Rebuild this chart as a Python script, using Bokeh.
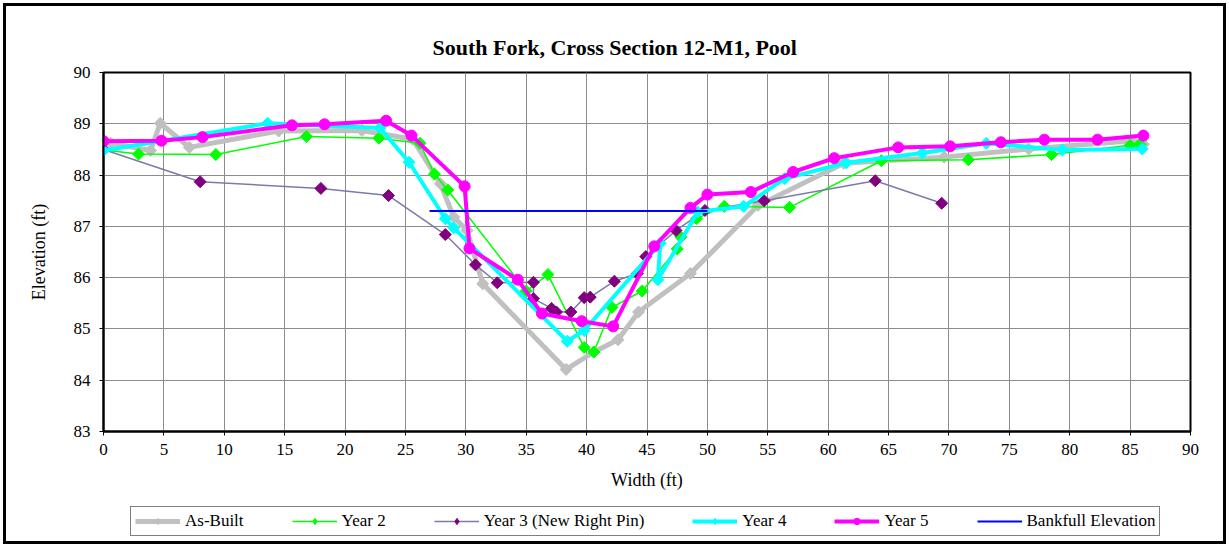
import math
from bokeh.plotting import figure
from bokeh.models import Legend, LegendItem, FixedTicker, Range1d
from bokeh.layouts import column
from bokeh.embed import file_html
from bokeh.resources import INLINE

FONT = "Liberation Serif"

title_text = "South Fork, Cross Section 12-M1, Pool"
x_label = "Width (ft)"
y_label = "Elevation (ft)"

as_built_x = [0.6, 3.9, 4.7, 7.1, 14.5, 21.4, 25.6, 27.9, 29.0, 30.1, 31.4, 38.3, 40.6, 42.6, 44.3, 48.6, 54.2, 61.3, 69.6, 76.6, 85.2, 86.1]
as_built_y = [88.62, 88.48, 89.01, 88.54, 88.86, 88.87, 88.70, 87.83, 87.18, 86.92, 85.88, 84.21, 84.55, 84.79, 85.33, 86.08, 87.41, 88.23, 88.35, 88.51, 88.67, 88.60]

year2_x = [0, 2.9, 9.3, 16.8, 22.8, 26.2, 27.4, 28.5, 35.0, 36.8, 39.8, 40.6, 42.1, 44.6, 47.5, 47.8, 49.1, 51.4, 56.8, 64.4, 71.6, 78.5, 85.0, 85.8]
year2_y = [88.49, 88.41, 88.40, 88.75, 88.72, 88.62, 88.02, 87.71, 85.74, 86.06, 84.64, 84.55, 85.42, 85.74, 86.56, 86.79, 87.15, 87.39, 87.37, 88.28, 88.30, 88.40, 88.58, 88.60]

year3_x = [0, 8.0, 18.0, 23.6, 28.3, 30.8, 32.6, 35.6, 35.6, 37.1, 37.5, 38.7, 39.8, 40.3, 42.3, 44.2, 44.9, 47.4, 49.8, 54.7, 63.9, 69.4]
year3_y = [88.50, 87.87, 87.74, 87.60, 86.84, 86.25, 85.90, 85.91, 85.59, 85.40, 85.33, 85.33, 85.61, 85.62, 85.93, 86.08, 86.41, 86.92, 87.31, 87.50, 87.89, 87.45]

year4_x = [0, 13.6, 22.9, 25.3, 28.3, 29.0, 38.4, 39.8, 46.1, 45.9, 49.2, 53.0, 56.4, 61.5, 67.8, 73.1, 79.4, 86.0]
year4_y = [88.48, 89.01, 88.92, 88.25, 87.15, 86.97, 84.76, 84.97, 86.67, 85.96, 87.28, 87.39, 87.93, 88.24, 88.43, 88.62, 88.49, 88.51]

year5_x = [0, 4.8, 8.2, 15.6, 18.3, 23.4, 25.5, 29.9, 30.3, 34.3, 36.3, 39.6, 42.2, 45.6, 48.6, 50.0, 53.6, 57.1, 60.5, 65.8, 70.1, 74.3, 77.9, 82.3, 86.1]
year5_y = [88.66, 88.67, 88.74, 88.97, 88.99, 89.06, 88.77, 87.78, 86.57, 85.96, 85.30, 85.15, 85.05, 86.61, 87.36, 87.62, 87.67, 88.06, 88.33, 88.54, 88.56, 88.64, 88.69, 88.69, 88.77]

bankfull_x = [27.0, 50.0]
bankfull_y = [87.3, 87.3]

series_names = ["As-Built", "Year 2", "Year 3 (New Right Pin)", "Year 4", "Year 5", "Bankfull Elevation"]

x_ticks = list(range(0, 91, 5))
y_ticks = list(range(83, 91, 1))

# series styles: (line color, line width, marker, marker color)
styles = [
    ("#c0c0c0", 5, "diamond", "#c0c0c0"),
    ("#00ff00", 1.5, "diamond", "#00ff00"),
    ("#7b7bab", 1.5, "diamond", "#800080"),
    ("#00ffff", 4, "diamond", "#00ffff"),
    ("#ff00ff", 4, "circle", "#ff00ff"),
    ("#0000ff", 2, None, None),
]
series = [(as_built_x, as_built_y), (year2_x, year2_y), (year3_x, year3_y),
          (year4_x, year4_y), (year5_x, year5_y), (bankfull_x, bankfull_y)]


def add_markers(fig, xs, ys, mk, mc):
    if mk == "diamond":
        return fig.scatter(xs, ys, marker="square", angle=math.pi / 4, size=8.5,
                           fill_color=mc, line_color=mc)
    return fig.scatter(xs, ys, marker="circle", size=11, fill_color=mc, line_color=mc)


def add_legend_markers(fig, xs, ys, mk, mc):
    if mk == "diamond":
        return fig.scatter(xs, ys, marker="diamond", size=13, fill_color=mc, line_color=mc)
    return fig.scatter(xs, ys, marker="circle", size=10, fill_color=mc, line_color=mc)


p = figure(frame_width=1087, frame_height=359, output_backend="svg", toolbar_location=None,
           x_range=Range1d(0, 90), y_range=Range1d(83, 90),
           min_border_left=103, min_border_right=39, min_border_top=72, min_border_bottom=68)
p.border_fill_color = None

p.title.text = title_text
p.title.align = "left"
p.title.offset = 329
p.title.text_font = FONT
p.title.text_font_size = "22px"
p.title.text_font_style = "bold"
p.title.text_color = "black"
p.title.standoff = 26

p.outline_line_color = "black"
p.outline_line_width = 2
p.outline_line_alpha = 1.0

for ax in (p.xaxis[0], p.yaxis[0]):
    ax.axis_line_color = "black"
    ax.axis_line_width = 2
    ax.major_tick_in = 0
    ax.major_tick_out = 4
    ax.minor_tick_in = 0
    ax.minor_tick_out = 0
    ax.major_tick_line_color = "black"
    ax.major_label_text_font = FONT
    ax.major_label_text_font_size = "17px"
    ax.major_label_text_color = "black"
    ax.axis_label_text_font = FONT
    ax.axis_label_text_font_size = "18px"
    ax.axis_label_text_font_style = "normal"
    ax.axis_label_text_color = "black"

p.xaxis.ticker = FixedTicker(ticks=x_ticks)
p.yaxis.ticker = FixedTicker(ticks=y_ticks)
p.xaxis.axis_label = x_label
p.yaxis.axis_label = y_label
p.xaxis.major_label_standoff = 8
p.xaxis.axis_label_standoff = 12
p.yaxis.major_label_standoff = 9
p.yaxis.axis_label_standoff = 22

p.xgrid.ticker = FixedTicker(ticks=x_ticks)
p.ygrid.ticker = FixedTicker(ticks=y_ticks)
p.grid.grid_line_color = "#8c8c8c"
p.grid.grid_line_width = 1
p.grid.grid_line_alpha = 1.0

for (xs, ys), (lc, lw, mk, mc) in zip(series, styles):
    p.line(xs, ys, line_color=lc, line_width=lw)
    if mk is not None:
        add_markers(p, xs, ys, mk, mc)

# legend strip below the chart; its proxy renderers use the same data but lie outside this strip's ranges
q = figure(width=1229, height=48, output_backend="svg", toolbar_location=None,
           x_axis_type=None, y_axis_type=None, x_range=Range1d(-2, -1), y_range=Range1d(0, 1),
           min_border_left=0, min_border_right=0, min_border_top=0, min_border_bottom=0)
q.border_fill_color = None
q.background_fill_color = None
q.outline_line_color = None
q.grid.visible = False

items = []
for name, (xs, ys), (lc, lw, mk, mc) in zip(series_names, series, styles):
    rs = [q.line(xs, ys, line_color=lc, line_width=lw)]
    if mk is not None:
        rs.append(add_legend_markers(q, xs, ys, mk, mc))
    items.append(LegendItem(label=name, renderers=rs))

legend = Legend(items=items, orientation="horizontal", location=(27, 11),
                label_text_font=FONT, label_text_font_size="17px", label_text_color="black",
                glyph_width=45, glyph_height=16, label_standoff=5, spacing=48,
                padding=4, margin=0, border_line_color="black", border_line_width=1,
                background_fill_color="white", background_fill_alpha=1.0)
q.add_layout(legend, "center")

layout = column(p, q, spacing=0,
                styles={"outline": "3px solid black", "outline-offset": "-6px", "background-color": "white"})

open("out.html", "w").write(file_html(layout, INLINE))
